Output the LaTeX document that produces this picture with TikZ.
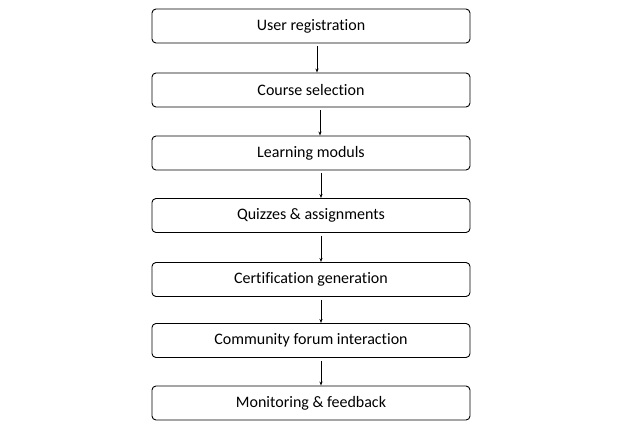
\documentclass[tikz,border=0pt]{standalone}
\usepackage{fontspec}
\setmainfont{Carlito}[Ligatures={NoCommon}]
\usetikzlibrary{arrows.meta}
\begin{document}
\begin{tikzpicture}[x=1pt,y=-1pt,
  stepbox/.style={draw=black, line width=0.9pt, rounded corners=4pt, minimum width=318pt, minimum height=34pt, inner sep=0pt, font=\fontsize{16}{18}\selectfont},
  flow/.style={draw=black, line width=0.7pt, shorten <=3pt, -{Stealth[length=4pt,width=3pt]}}]
\useasboundingbox (0,0) rectangle (630,426);
\node[stepbox] (a) at (311,26) {User registration};
\node[stepbox] (b) at (311,90) {Course selection};
\node[stepbox] (c) at (311,153) {Learning moduls};
\node[stepbox] (d) at (311,215.5) {Quizzes \& assignments};
\node[stepbox] (e) at (311,279.5) {Certification generation};
\node[stepbox] (f) at (311,340.5) {Community forum interaction};
\node[stepbox] (g) at (311,403) {Monitoring \& feedback};
\draw[flow] ([xshift=6pt]a.south) -- ([xshift=6pt]b.north);
\draw[flow] ([xshift=9pt]b.south) -- ([xshift=9pt]c.north);
\draw[flow] ([xshift=10pt]c.south) -- ([xshift=10pt]d.north);
\draw[flow] ([xshift=10pt]d.south) -- ([xshift=10pt]e.north);
\draw[flow] ([xshift=10pt]e.south) -- ([xshift=10pt]f.north);
\draw[flow] ([xshift=10pt]f.south) -- ([xshift=10pt]g.north);
\end{tikzpicture}
\end{document}
